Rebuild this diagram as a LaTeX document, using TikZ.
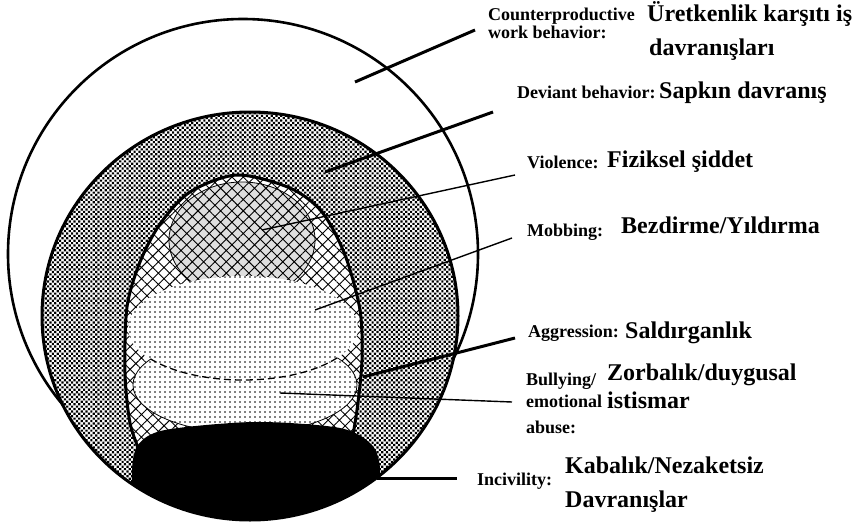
\documentclass[tikz,border=0pt]{standalone}
\usepackage{fontspec}
\newfontfamily\lserif{Liberation Serif}
\usetikzlibrary{patterns.meta}
\newcommand{\enlab}{\lserif\bfseries\fontsize{18}{20}\selectfont}
\newcommand{\trlab}{\lserif\bfseries\fontsize{24}{28}\selectfont}
\newcommand{\eggpath}{plot[smooth] coordinates {(140,452) (130,423) (125,373) (127,307) (140,262) (160,224) (190,192) (237,175) (290,188) (322,212) (345,255) (360,310) (362,360) (357,410) (350,452)} -- cycle}

\begin{document}
\begin{tikzpicture}[x=1pt, y=-1pt,
    en/.style={font=\enlab, anchor=base west, inner sep=0pt},
    tr/.style={font=\trlab, anchor=base west, inner sep=0pt},
    thinlead/.style={line width=1.4pt},
    thicklead/.style={line width=3pt},
    ring/.style={pattern={Dots[distance=3.4pt, radius=1.55pt, angle=45]}},
    net/.style={pattern={Hatch[angle=45, distance=8pt, line width=0.9pt]}},
    speck/.style={pattern={Dots[distance=5pt, radius=0.8pt]}}]
    \fill[white] (0,0) rectangle (856,522);
    \useasboundingbox (0,0) rectangle (856,522);

    % counterproductive work behavior
    \draw[line width=2.6pt, fill=white] (243,254) circle [radius=235];

    % deviant behavior
    \path[preaction={fill=white}, ring] (250,316) ellipse [x radius=208, y radius=204];

    % egg: violence, aggression, bullying
    \path[preaction={fill=white}, net] \eggpath;
    \begin{scope}
      \clip \eggpath;
      \path[preaction={fill=gray!25}, net] (242,240) ellipse [x radius=73, y radius=58];
      \draw[line width=0.8pt] (242,240) ellipse [x radius=73, y radius=58];
      \path[preaction={fill=white}, speck] (245,385) ellipse [x radius=112, y radius=48];
      \draw[line width=0.8pt] (245,385) ellipse [x radius=112, y radius=48];
      \path[preaction={fill=white}, speck] (243,328) ellipse [x radius=115, y radius=52];
      \draw[line width=1.3pt, dash pattern=on 7pt off 4pt] (243,328) ++(35:115 and 52)
        arc [start angle=35, end angle=145, x radius=115, y radius=52];
    \end{scope}
    \draw[line width=3pt] \eggpath;

    % incivility
    \begin{scope}
      \clip (250,316) ellipse [x radius=208, y radius=204];
      \fill[black] plot[smooth cycle] coordinates {(132,472) (138,445) (165,430) (255,422) (340,428) (372,445) (380,470) (372,500) (320,530) (190,530) (138,500)};
    \end{scope}
    \draw[line width=3pt] (250,316) ellipse [x radius=208, y radius=204];

    % leader lines
    \coordinate (cwbIn) at (355,82);   \coordinate (cwbEnd) at (475,30);
    \coordinate (devIn) at (325,172);  \coordinate (devEnd) at (493,112);
    \coordinate (vioIn) at (262,230);  \coordinate (vioEnd) at (515,175);
    \coordinate (mobIn) at (315,310);  \coordinate (mobEnd) at (512,238);
    \coordinate (aggIn) at (363,377);  \coordinate (aggEnd) at (515,338);
    \coordinate (bulIn) at (280,393);  \coordinate (bulEnd) at (512,402);
    \coordinate (incIn) at (377,478);  \coordinate (incEnd) at (457,478);
    \foreach \l in {cwb, dev, agg, inc} \draw[thicklead] (\l In) -- (\l End);
    \foreach \l in {vio, mob, bul} \draw[thinlead] (\l In) -- (\l End);

    % labels
    \node[en] (cwbEn)  at (488,20)  {Counterproductive};
    \node[en] (cwbEn2) at (488,38)  {work behavior:};
    \node[tr] (cwbTr)  at (647,21)  {Üretkenlik karşıtı iş};
    \node[tr] (cwbTr2) at (649,55)  {davranışları};
    \node[en] (devEn)  at (517,98)  {Deviant behavior:};
    \node[tr] (devTr)  at (659,98)  {Sapkın davranış};
    \node[en] (vioEn)  at (527,168) {Violence:};
    \node[tr] (vioTr)  at (607,167) {Fiziksel şiddet};
    \node[en] (mobEn)  at (527,236) {Mobbing:};
    \node[tr] (mobTr)  at (621,233) {Bezdirme/Yıldırma};
    \node[en] (aggEn)  at (528,337) {Aggression:};
    \node[tr] (aggTr)  at (625,338) {Saldırganlık};
    \node[en] (bulEn)  at (526,385) {Bullying/};
    \node[en] (bulEn2) at (526,407) {emotional};
    \node[en] (bulEn3) at (526,433) {abuse:};
    \node[tr] (bulTr)  at (607,380) {Zorbalık/duygusal};
    \node[tr] (bulTr2) at (607,408) {istismar};
    \node[en] (incEn)  at (477,485) {Incivility:};
    \node[tr] (incTr)  at (565,473) {Kabalık/Nezaketsiz};
    \node[tr] (incTr2) at (565,507) {Davranışlar};
\end{tikzpicture}
\end{document}
